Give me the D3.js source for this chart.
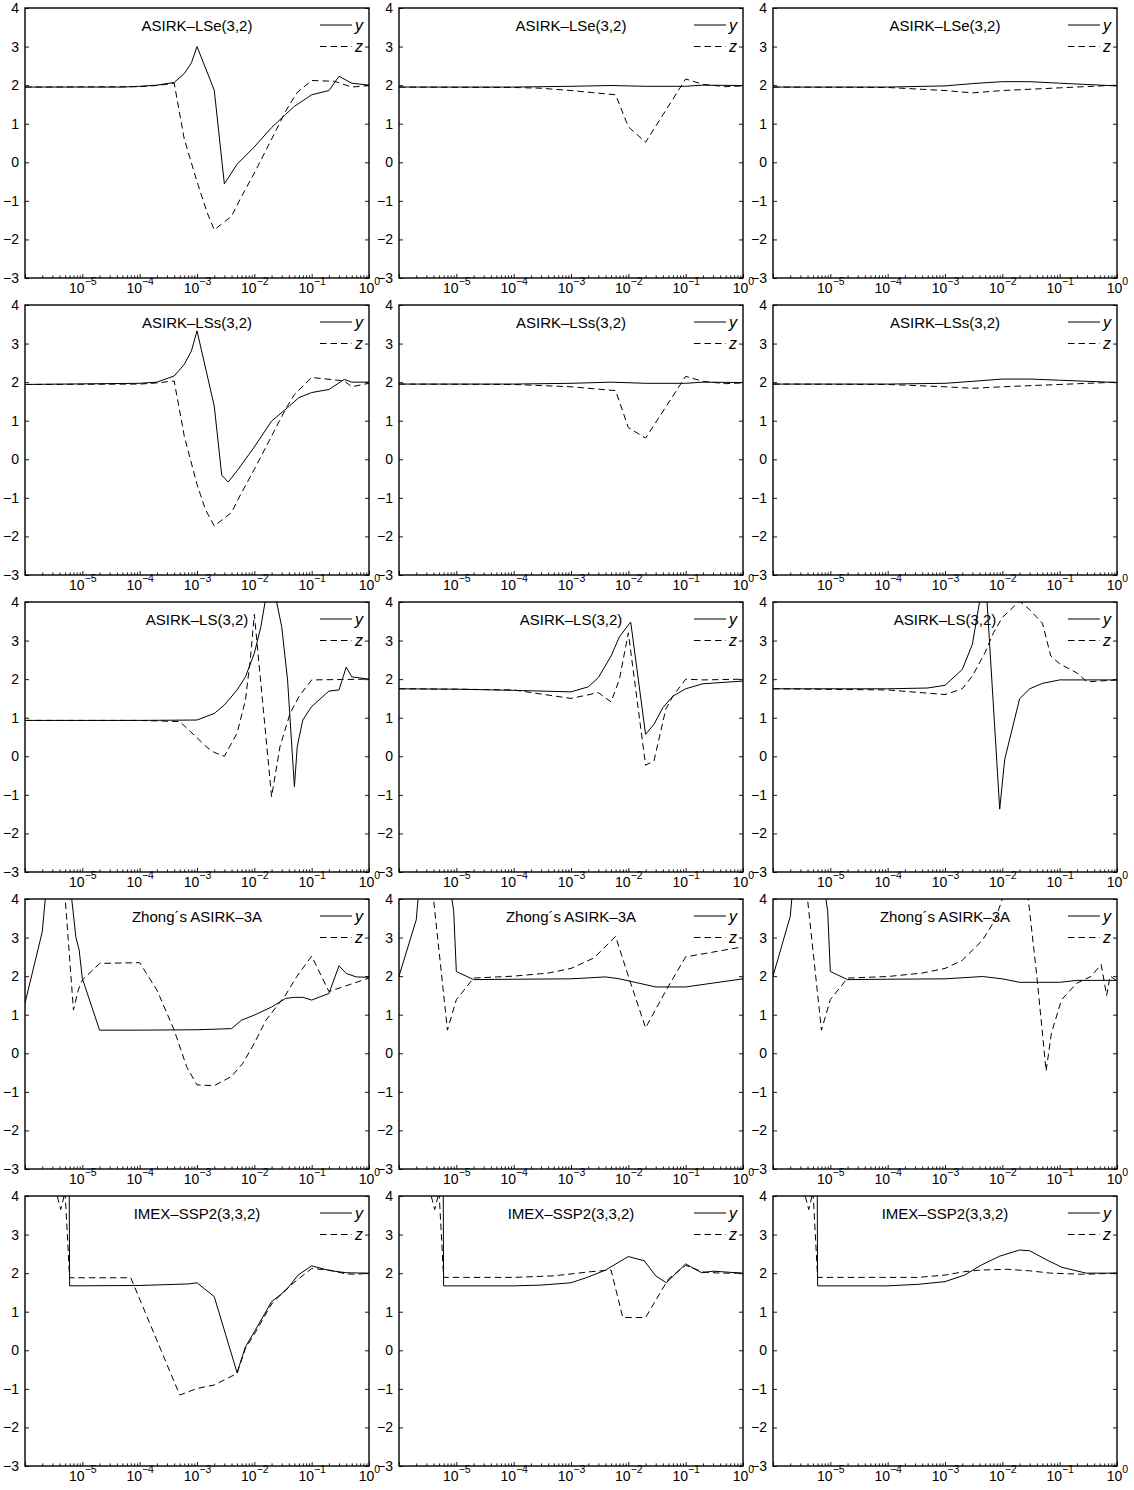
<!DOCTYPE html>
<html>
<head>
<meta charset="utf-8">
<script src="https://cdn.jsdelivr.net/npm/d3@7/dist/d3.min.js"></script>
<style>
  body { margin: 0; background: #fff; }
  text { font-family: "Liberation Sans", Arial, Helvetica, sans-serif; fill: #000; }
</style>
</head>
<body>
<svg id="fig" width="1134" height="1490"></svg>
<script>
// ---- row titles (one method per row) ----
const rowTitles = [
  "ASIRK\u2013LSe(3,2)",
  "ASIRK\u2013LSs(3,2)",
  "ASIRK\u2013LS(3,2)",
  "Zhong\u00b4s ASIRK\u20133A",
  "IMEX\u2013SSP2(3,3,2)"
];
const seriesNames = ["y", "z"];

// ---- axis ticks ----
const xDecades = [-6, -5, -4, -3, -2, -1, 0];   // major ticks (10^k)
const xLabelled = [-5, -4, -3, -2, -1, 0];      // exponents that carry a label
const yTickValues = [-3, -2, -1, 0, 1, 2, 3, 4];
const xDomain = [1e-6, 1];
const yDomain = [-3, 4];

// ---- series: [h, value] pairs ----
// ASIRK-LSe(3,2)
const lse1_y = [[1e-6,1.95],[1e-5,1.95],[5e-5,1.95],[1e-4,1.97],[2e-4,2.0],[4e-4,2.07],[6e-4,2.3],[8e-4,2.58],[1e-3,3.0],[2e-3,1.87],[3e-3,-0.56],[5e-3,-0.05],[1e-2,0.4],[2e-2,0.9],[3.5e-2,1.24],[5e-2,1.45],[1e-1,1.75],[2e-1,1.86],[3e-1,2.23],[5e-1,2.05],[1,2.0]];
const lse1_z = [[1e-6,1.95],[1e-4,1.96],[2e-4,1.99],[4e-4,2.05],[6e-4,0.6],[1e-3,-0.5],[1.5e-3,-1.3],[2e-3,-1.75],[4e-3,-1.4],[5.6e-3,-0.97],[1e-2,-0.28],[2e-2,0.6],[3.5e-2,1.32],[5.5e-2,1.8],[1e-1,2.12],[2.5e-1,2.1],[5e-1,1.95],[1,1.99]];
const lse2_y = [[1e-6,1.95],[1e-4,1.95],[1e-3,1.97],[5e-3,1.99],[2e-2,1.97],[1e-1,1.97],[2e-1,2.0],[1,1.99]];
const lse2_z = [[1e-6,1.95],[1e-4,1.94],[3e-4,1.92],[1e-3,1.86],[6e-3,1.75],[1e-2,0.92],[2e-2,0.52],[1e-1,2.16],[2e-1,2.02],[5e-1,1.96],[1,1.98]];
const lse3_y = [[1e-6,1.95],[1e-4,1.95],[1e-3,1.98],[3e-3,2.04],[1e-2,2.09],[3e-2,2.09],[1e-1,2.05],[1,1.98]];
const lse3_z = [[1e-6,1.95],[1e-4,1.94],[1e-3,1.86],[3e-3,1.8],[1e-2,1.86],[1e-1,1.93],[1,2.0]];

// ASIRK-LSs(3,2)
const lss1_y = [[1e-6,1.94],[1e-4,1.97],[2e-4,2.0],[4e-4,2.16],[6e-4,2.46],[8e-4,2.81],[1e-3,3.33],[2e-3,1.38],[2.7e-3,-0.41],[3.5e-3,-0.59],[5e-3,-0.3],[1e-2,0.32],[2e-2,0.99],[3.8e-2,1.34],[6e-2,1.6],[1e-1,1.73],[2e-1,1.81],[3.7e-1,2.07],[5e-1,2.0],[1,2.0]];
const lss1_z = [[1e-6,1.94],[1e-4,1.95],[2e-4,1.98],[4e-4,2.03],[6e-4,0.6],[1e-3,-0.65],[1.4e-3,-1.3],[2e-3,-1.73],[4e-3,-1.38],[5.6e-3,-0.95],[1e-2,-0.26],[2e-2,0.6],[3.5e-2,1.3],[5e-2,1.68],[1e-1,2.12],[2.5e-1,2.06],[3.7e-1,2.03],[5e-1,1.88],[1,1.97]];
const lss2_y = [[1e-6,1.95],[1e-4,1.95],[1e-3,1.97],[5e-3,2.0],[2e-2,1.97],[1e-1,1.97],[2e-1,2.0],[1,1.99]];
const lss2_z = [[1e-6,1.95],[1e-4,1.94],[1e-3,1.88],[6e-3,1.78],[1e-2,0.82],[2e-2,0.55],[1e-1,2.15],[2e-1,2.02],[5e-1,1.96],[1,1.98]];
const lss3_y = [[1e-6,1.95],[1e-4,1.95],[1e-3,1.97],[3e-3,2.02],[1e-2,2.08],[3e-2,2.08],[1e-1,2.05],[1,1.99]];
const lss3_z = [[1e-6,1.95],[1e-4,1.94],[1e-3,1.88],[3e-3,1.84],[1e-2,1.88],[1e-1,1.94],[1,2.0]];

// ASIRK-LS(3,2)
const ls1_y = [[1e-6,0.93],[1e-4,0.93],[1e-3,0.94],[2e-3,1.11],[3e-3,1.33],[5e-3,1.72],[7e-3,2.06],[1e-2,2.67],[1.3e-2,3.36],[1.9e-2,4.8],[3e-2,3.36],[3.8e-2,1.98],[5e-2,-0.79],[5.6e-2,0.25],[7e-2,0.94],[1e-1,1.29],[2e-1,1.69],[3e-1,1.72],[4e-1,2.31],[5e-1,2.06],[1,2.0]];
const ls1_z = [[1e-6,0.93],[1e-4,0.93],[5e-4,0.9],[1e-3,0.48],[1.5e-3,0.23],[2e-3,0.1],[3e-3,0.0],[5e-3,0.6],[7e-3,1.46],[8.5e-3,2.5],[1e-2,3.68],[2e-2,-1.05],[2.8e-2,0.25],[4.2e-2,1.11],[6e-2,1.55],[1e-1,1.98],[1,2.0]];
const ls2_y = [[1e-6,1.75],[1e-5,1.74],[1e-4,1.71],[1e-3,1.67],[2e-3,1.8],[3e-3,2.04],[5e-3,2.6],[7e-3,3.1],[1.1e-2,3.48],[2e-2,0.57],[2.8e-2,0.83],[4e-2,1.26],[6e-2,1.56],[1e-1,1.75],[2e-1,1.88],[1,1.95]];
const ls2_z = [[1e-6,1.75],[1e-5,1.74],[1e-4,1.72],[1e-3,1.5],[3e-3,1.65],[5e-3,1.41],[7e-3,2.0],[1e-2,3.2],[2e-2,-0.23],[2.8e-2,-0.12],[4.5e-2,1.22],[6e-2,1.56],[1e-1,2.0],[2e-1,1.98],[1,2.0]];
const ls3_y = [[1e-6,1.75],[1e-4,1.75],[5e-4,1.77],[1e-3,1.84],[2e-3,2.25],[3e-3,2.9],[5e-3,4.85],[9e-3,-1.37],[1.1e-2,-0.08],[2e-2,1.49],[3e-2,1.75],[5e-2,1.89],[1e-1,1.98],[1,1.98]];
const ls3_z = [[1e-6,1.75],[1e-4,1.72],[1e-3,1.6],[2e-3,1.75],[3e-3,2.08],[5e-3,2.69],[7e-3,3.2],[1e-2,3.6],[2e-2,4.02],[3e-2,3.8],[5e-2,3.45],[7e-2,2.6],[1e-1,2.4],[2e-1,2.16],[3e-1,1.93],[1,1.98]];

// Zhong's ASIRK-3A
const zh1_y = [[1e-6,1.3],[2e-6,3.15],[3e-6,6],[5e-6,5.6],[7.7e-6,3.02],[8.8e-6,2.68],[1e-5,1.94],[2e-5,0.6],[1e-4,0.6],[1e-3,0.61],[4e-3,0.64],[6e-3,0.86],[1e-2,0.99],[2e-2,1.2],[3.5e-2,1.42],[5e-2,1.45],[7e-2,1.45],[1e-1,1.38],[2e-1,1.55],[3e-1,2.27],[4e-1,2.07],[6e-1,1.98],[1,1.97]];
const zh1_z = [[1e-6,6],[4e-6,6],[7e-6,1.12],[8.5e-6,1.64],[1e-5,1.9],[2e-5,2.33],[1e-4,2.35],[2e-4,1.64],[4e-4,0.6],[6.6e-4,-0.35],[1e-3,-0.82],[2e-3,-0.84],[4e-3,-0.6],[6.3e-3,-0.26],[1e-2,0.26],[1.6e-2,0.86],[3.5e-2,1.51],[5.5e-2,1.99],[1e-1,2.52],[2e-1,1.6],[1,1.95]];
const zh2_y = [[1e-6,2.0],[2e-6,3.46],[3e-6,6.5],[8e-6,4.2],[9e-6,3.68],[1e-5,2.12],[2e-5,1.91],[1e-4,1.92],[1e-3,1.93],[4e-3,1.98],[7e-3,1.93],[3e-2,1.72],[1e-1,1.72],[1,1.93]];
const zh2_z = [[1e-6,6],[3e-6,5.5],[4e-6,4.0],[7e-6,0.6],[1e-5,1.39],[2e-5,1.95],[1e-4,2.0],[4e-4,2.08],[1e-3,2.2],[2.5e-3,2.47],[6e-3,3.03],[1e-2,2.0],[2e-2,0.66],[4.5e-2,1.62],[1e-1,2.5],[1,2.76]];
const zh3_y = [[1e-6,2.0],[2e-6,3.55],[3e-6,6.5],[8e-6,4.2],[9e-6,3.68],[1e-5,2.12],[2e-5,1.91],[1e-4,1.92],[1e-3,1.93],[4.5e-3,1.99],[1e-2,1.93],[2e-2,1.84],[1e-1,1.84],[2e-1,1.89],[1,1.89]];
const zh3_z = [[1e-6,6],[3e-6,5.5],[4e-6,4.0],[7e-6,0.6],[1e-5,1.39],[2e-5,1.95],[1e-4,1.99],[4e-4,2.08],[1e-3,2.2],[2e-3,2.41],[4.5e-3,2.93],[7.5e-3,3.46],[1e-2,4.0],[2.3e-2,5.2],[4e-2,2.0],[5.8e-2,-0.46],[7.2e-2,0.53],[1.08e-1,1.39],[2e-1,1.82],[3.5e-1,1.99],[5.3e-1,2.3],[6.6e-1,1.5],[7.6e-1,2.0],[1,1.88]];

// IMEX-SSP2(3,3,2)
const ssp1_y = [[1e-6,30],[5e-6,30],[6e-6,1.67],[1e-4,1.68],[7e-4,1.72],[1e-3,1.75],[2e-3,1.39],[5e-3,-0.58],[7e-3,0.09],[1e-2,0.48],[2e-2,1.26],[3.6e-2,1.56],[5.8e-2,1.95],[1e-1,2.19],[2e-1,2.07],[4e-1,2.01],[1,2.0]];
const ssp1_z = [[1e-6,6],[3.5e-6,4.1],[4.2e-6,3.65],[5e-6,4.1],[6e-6,1.88],[7e-5,1.88],[5e-4,-1.16],[1e-3,-0.99],[2e-3,-0.9],[5e-3,-0.6],[7e-3,0.05],[1e-2,0.42],[2e-2,1.2],[4e-2,1.65],[1e-1,2.12],[2e-1,2.08],[4e-1,1.98],[6e-1,1.97],[1,2.0]];
const ssp2_y = [[1e-6,30],[5e-6,30],[6e-6,1.67],[1e-4,1.67],[3e-4,1.69],[1e-3,1.75],[2e-3,1.9],[4e-3,2.08],[1e-2,2.43],[1.9e-2,2.32],[3e-2,1.93],[4.6e-2,1.75],[1e-1,2.24],[1.9e-1,2.01],[3e-1,2.05],[1,2.0]];
const ssp2_z = [[1e-6,6],[3.5e-6,4.1],[4.2e-6,3.65],[5e-6,4.1],[6e-6,1.89],[1e-4,1.89],[5e-4,1.93],[2.3e-3,2.04],[5e-3,2.08],[8e-3,0.85],[2e-2,0.85],[5e-2,1.85],[1e-1,2.2],[2e-1,2.03],[4e-1,2.0],[1,2.0]];
const ssp3_y = [[1e-6,30],[5e-6,30],[6e-6,1.67],[1e-4,1.67],[3.4e-4,1.71],[1e-3,1.78],[2.2e-3,1.95],[4.3e-3,2.21],[9e-3,2.44],[2e-2,2.6],[3e-2,2.58],[6e-2,2.34],[1.1e-1,2.15],[2.9e-1,2.0],[1,2.0]];
const ssp3_z = [[1e-6,6],[3.5e-6,4.1],[4.2e-6,3.65],[5e-6,4.1],[6e-6,1.89],[3.4e-4,1.89],[1e-3,1.95],[2.2e-3,2.04],[4.3e-3,2.08],[1.2e-2,2.1],[3e-2,2.06],[7e-2,2.0],[2.5e-1,1.97],[1,2.0]];

// grid of panels: rows = methods, columns = test cases
const grid = [
  [[lse1_y, lse1_z], [lse2_y, lse2_z], [lse3_y, lse3_z]],
  [[lss1_y, lss1_z], [lss2_y, lss2_z], [lss3_y, lss3_z]],
  [[ls1_y, ls1_z],   [ls2_y, ls2_z],   [ls3_y, ls3_z]],
  [[zh1_y, zh1_z],   [zh2_y, zh2_z],   [zh3_y, zh3_z]],
  [[ssp1_y, ssp1_z], [ssp2_y, ssp2_z], [ssp3_y, ssp3_z]]
];

// ---- layout ----
const W = 344, H = 270;
const left0 = 25, colStep = 374;
const top0 = 8, rowStep = 297;
const dashPattern = "6.5,4";

const svg = d3.select("#fig");
svg.append("rect").attr("width", 1134).attr("height", 1490).attr("fill", "#fff");

const x = d3.scaleLog().domain(xDomain).range([0, W]);
const y = d3.scaleLinear().domain(yDomain).range([H, 0]);
const yFormat = d3.format("d");   // integer labels with a true minus sign

const minorTicks = [];
xDecades.slice(0, -1).forEach(e => {
  for (let k = 2; k <= 9; k++) minorTicks.push(k * Math.pow(10, e));
});

svg.append("defs").append("clipPath").attr("id", "plotArea")
  .append("rect").attr("width", W).attr("height", H);

const line = d3.line().x(d => x(d[0])).y(d => y(d[1]));

grid.forEach((row, r) => {
  row.forEach((pair, c) => {
    const g = svg.append("g")
      .attr("transform", `translate(${left0 + c * colStep},${top0 + r * rowStep})`);

    // minor x ticks
    g.append("g").attr("transform", `translate(0,${H})`)
      .call(d3.axisBottom(x).tickValues(minorTicks).tickSize(-2.6).tickFormat(""))
      .call(a => a.select(".domain").remove())
      .call(a => a.selectAll("line").attr("stroke-width", 0.9));

    // major x ticks with 10^k labels
    const xa = g.append("g").attr("transform", `translate(0,${H})`)
      .call(d3.axisBottom(x).tickValues(xDecades.map(e => Math.pow(10, e)))
        .tickSize(-4).tickPadding(4.8).tickFormat(() => ""))
      .call(a => a.select(".domain").remove())
      .call(a => a.selectAll("line").attr("stroke-width", 0.9));
    xa.selectAll(".tick text").each(function (d) {
      const e = Math.round(Math.log10(d));
      if (!xLabelled.includes(e)) return;
      const t = d3.select(this).attr("font-size", 14).attr("font-family", null);
      t.append("tspan").text("10");
      t.append("tspan").attr("dy", -7.5).attr("font-size", 10.5)
        .text(e < 0 ? "\u2212" + Math.abs(e) : String(e));
    });

    // y ticks, left (labelled) and right
    g.append("g")
      .call(d3.axisLeft(y).tickValues(yTickValues).tickSize(-4).tickPadding(6).tickFormat(yFormat))
      .call(a => a.select(".domain").remove())
      .call(a => a.selectAll("line").attr("stroke-width", 0.9))
      .call(a => a.selectAll("text").attr("font-size", 14).attr("font-family", null));
    g.append("g").attr("transform", `translate(${W},0)`)
      .call(d3.axisRight(y).tickValues(yTickValues).tickSize(-4).tickFormat(""))
      .call(a => a.select(".domain").remove())
      .call(a => a.selectAll("line").attr("stroke-width", 0.9));

    // title
    g.append("text").attr("x", W / 2).attr("y", 22.5)
      .attr("text-anchor", "middle").attr("font-size", 15)
      .text(rowTitles[r]);

    // legend
    seriesNames.forEach((name, i) => {
      const ly = 17 + i * 21.5;
      g.append("line").attr("x1", 295).attr("x2", 327).attr("y1", ly).attr("y2", ly)
        .attr("stroke", "#000").attr("stroke-width", 1)
        .attr("stroke-dasharray", i === 1 ? dashPattern : null);
      g.append("text").attr("x", 330).attr("y", ly + 5.5)
        .attr("font-size", 16).attr("font-style", "italic").text(name);
    });

    // curves
    const plot = g.append("g").attr("clip-path", "url(#plotArea)");
    pair.forEach((series, i) => {
      plot.append("path").datum(series).attr("d", line)
        .attr("fill", "none").attr("stroke", "#000").attr("stroke-width", 1)
        .attr("stroke-linejoin", "round")
        .attr("stroke-dasharray", i === 1 ? dashPattern : null);
    });

    // frame
    g.append("rect").attr("width", W).attr("height", H)
      .attr("fill", "none").attr("stroke", "#000").attr("stroke-width", 1.4);
  });
});
</script>
</body>
</html>
